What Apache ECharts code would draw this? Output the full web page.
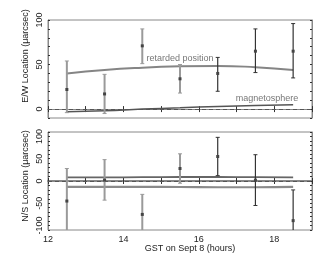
<!DOCTYPE html>
<html><head><meta charset="utf-8">
<script src="https://cdn.jsdelivr.net/npm/echarts@6/dist/echarts.min.js"></script>
<style>html,body{margin:0;padding:0;background:#fff}#c{width:327px;height:263px}</style>
</head><body><div id="c"></div>
<script>
const hours = [12.5, 13.5, 14.5, 15.5, 16.5, 17.5, 18.5];
const ewVal = [22, 17, 71, 34, 40, 65, 65];
const ewLow = [-4, -5, 51, 18, 20, 41, 35];
const ewHigh = [54, 39, 90, 50, 58, 90, 96];
const nsVal = [-45, 2, -75, 28, 55, 2, -89];
const nsLow = [-125, -43, -120, -5, 12, -55, -158];
const nsHigh = [28, 48, -30, 61, 98, 59, -20];
const barShade = [0, 0, 0, 0, 1, 1, 1];
const retarded = [40, 44, 46.5, 48, 48.5, 47, 44];
const magneto = [-3, -2, 0, 1.5, 3, 4, 5];
const nsUpper = [8, 8, 8.5, 9, 9, 8.5, 8];
const nsLower = [-13, -13, -13, -13.5, -14, -14, -13];
const xTicks = [12, 14, 16, 18];
const ewTicks = [0, 50, 100];
const nsTicks = [-100, -50, 0, 50, 100];

const shadeColors = ['#9a9a9a', '#333333'];
const font = 'Liberation Sans, Arial, sans-serif';

function pairs(xs, ys) { return xs.map((x, i) => [x, ys[i]]); }
function errData(v, lo, hi) { return hours.map((x, i) => [x, v[i], lo[i], hi[i], barShade[i]]); }

function renderErr(params, api) {
  const x = api.value(0), v = api.value(1), lo = api.value(2), hi = api.value(3), s = api.value(4);
  const pv = api.coord([x, v]), pl = api.coord([x, lo]), ph = api.coord([x, hi]);
  const col = shadeColors[s];
  const lw = s === 0 ? 2 : 1.2;
  return {
    type: 'group',
    children: [
      { type: 'line', shape: { x1: pv[0], y1: pl[1], x2: pv[0], y2: ph[1] }, style: { stroke: col, lineWidth: lw } },
      { type: 'line', shape: { x1: pv[0] - 2, y1: pl[1], x2: pv[0] + 2, y2: pl[1] }, style: { stroke: col, lineWidth: 1 } },
      { type: 'line', shape: { x1: pv[0] - 2, y1: ph[1], x2: pv[0] + 2, y2: ph[1] }, style: { stroke: col, lineWidth: 1 } },
      { type: 'rect', shape: { x: pv[0] - 1.5, y: pv[1] - 1.5, width: 3, height: 3 }, style: { fill: '#444' } }
    ]
  };
}

function xAxisDef(gi, pos, labels) {
  return {
    type: 'value', gridIndex: gi, position: pos, min: 12, max: 19, interval: 1,
    axisLine: { show: true, lineStyle: { color: '#888', width: (gi === 1 && pos === 'top') ? 2 : 1 } },
    axisTick: { show: true, inside: true, length: 3, lineStyle: { color: '#333' } },
    axisLabel: { show: labels, customValues: xTicks, color: '#222', fontSize: 9, fontFamily: font, margin: 5 },
    splitLine: { show: false }
  };
}
function yAxisDef(gi, pos, min, max, labelVals, labels) {
  return {
    type: 'value', gridIndex: gi, position: pos, min: min, max: max, interval: 10,
    axisLine: { show: true, lineStyle: { color: '#888' } },
    axisTick: { show: true, inside: true, length: 2, lineStyle: { color: '#333' } },
    axisLabel: { show: labels, customValues: labelVals, rotate: 90, color: '#222', fontSize: 9, fontFamily: font, margin: 4 },
    splitLine: { show: false }
  };
}

const chart = echarts.init(document.getElementById('c'), null, { renderer: 'canvas' });
chart.setOption({
  animation: false,
  backgroundColor: '#fff',
  grid: [
    { left: 48, top: 20, width: 264, height: 98, show: true, borderColor: '#888', borderWidth: 1 },
    { left: 48, top: 132, width: 264, height: 98, show: true, borderColor: '#888', borderWidth: 1 }
  ],
  xAxis: [
    xAxisDef(0, 'bottom', false), xAxisDef(0, 'top', false),
    xAxisDef(1, 'bottom', true), xAxisDef(1, 'top', false)
  ],
  yAxis: [
    yAxisDef(0, 'left', -10, 100, ewTicks, true), yAxisDef(0, 'right', -10, 100, ewTicks, false),
    yAxisDef(1, 'left', -110, 110, nsTicks, true), yAxisDef(1, 'right', -110, 110, nsTicks, false)
  ],
  graphic: [
    { type: 'text', x: 26, y: 56, rotation: Math.PI / 2, style: { text: 'E/W Location (\u03bcarcsec)', fontSize: 9, fontFamily: font, fill: '#222', align: 'center', verticalAlign: 'middle' } },
    { type: 'text', x: 26, y: 176, rotation: Math.PI / 2, style: { text: 'N/S Location (\u03bcarcsec)', fontSize: 9, fontFamily: font, fill: '#222', align: 'center', verticalAlign: 'middle' } },
    { type: 'text', x: 190, y: 249, style: { text: 'GST on Sept 8 (hours)', fontSize: 9, fontFamily: font, fill: '#222', align: 'center', verticalAlign: 'middle' } },
    { type: 'text', x: 180, y: 59, style: { text: 'retarded position', fontSize: 9, fontFamily: font, fill: '#777', align: 'center', verticalAlign: 'middle' } },
    { type: 'text', x: 267, y: 99, style: { text: 'magnetosphere', fontSize: 9, fontFamily: font, fill: '#777', align: 'center', verticalAlign: 'middle' } }
  ],
  series: [
    { type: 'line', xAxisIndex: 0, yAxisIndex: 0, data: [], silent: true,
      markLine: { symbol: 'none', silent: true, label: { show: false }, lineStyle: { type: [4, 3], color: '#555', width: 1 }, data: [{ yAxis: 0 }] } },
    { type: 'line', xAxisIndex: 2, yAxisIndex: 2, data: [], silent: true,
      markLine: { symbol: 'none', silent: true, label: { show: false }, lineStyle: { type: [4, 3], color: '#555', width: 1 }, data: [{ yAxis: 0 }] } },
    { type: 'line', xAxisIndex: 0, yAxisIndex: 0, data: pairs(hours, retarded), smooth: true, showSymbol: false, lineStyle: { color: '#858585', width: 2 } },
    { type: 'line', xAxisIndex: 0, yAxisIndex: 0, data: pairs(hours, magneto), smooth: true, showSymbol: false, lineStyle: { color: '#555', width: 1.5 } },
    { type: 'line', xAxisIndex: 2, yAxisIndex: 2, data: pairs(hours, nsUpper), smooth: true, showSymbol: false, lineStyle: { color: '#666', width: 1.8 } },
    { type: 'line', xAxisIndex: 2, yAxisIndex: 2, data: pairs(hours, nsLower), smooth: true, showSymbol: false, lineStyle: { color: '#8a8a8a', width: 2.2 } },
    { type: 'custom', xAxisIndex: 0, yAxisIndex: 0, clip: true, renderItem: renderErr, data: errData(ewVal, ewLow, ewHigh), encode: { x: 0, y: [1, 2, 3] }, z: 5 },
    { type: 'custom', xAxisIndex: 2, yAxisIndex: 2, clip: true, renderItem: renderErr, data: errData(nsVal, nsLow, nsHigh), encode: { x: 0, y: [1, 2, 3] }, z: 5 }
  ]
});
</script></body></html>
